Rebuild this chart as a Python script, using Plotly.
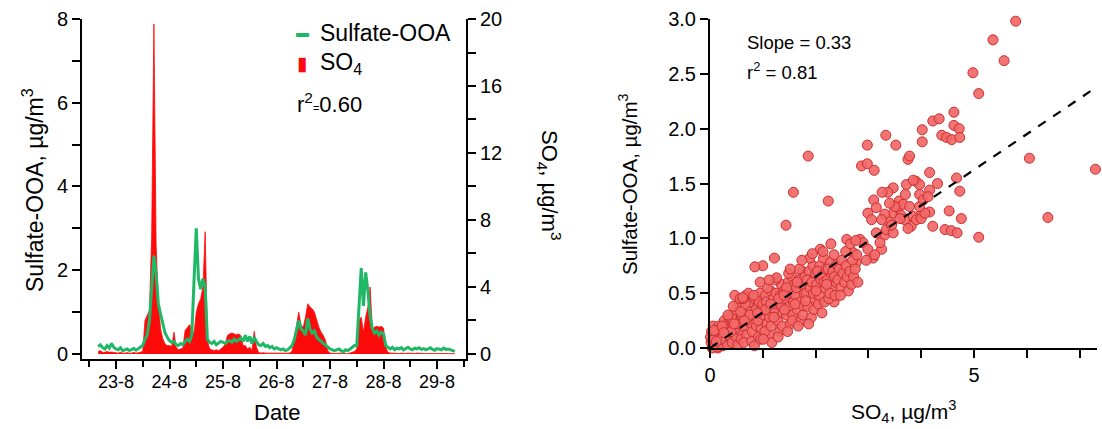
import pandas as pd
import plotly.graph_objects as go

# ---------------- time series (hourly, from 22-8 16:00) ----------------
start_time = "2012-08-22 16:00"
ooa_ts = [0.18, 0.22, 0.15, 0.12, 0.20, 0.14, 0.25, 0.16,
          0.12, 0.10, 0.15, 0.08, 0.10, 0.12, 0.08, 0.10, 0.13, 0.09, 0.12, 0.15, 0.20,
          0.35, 0.45, 0.80, 1.50, 2.35, 1.90, 1.20, 0.95, 0.70, 0.50, 0.40,
          0.32, 0.28, 0.30, 0.22, 0.20, 0.25, 0.22, 0.30, 0.35, 0.30, 0.45,
          1.75, 3.00, 1.80, 1.55, 1.80, 1.60, 0.35,
          0.28, 0.25, 0.30, 0.22, 0.25, 0.30,
          0.28, 0.25, 0.30, 0.32, 0.28, 0.35, 0.30, 0.33, 0.38, 0.30,
          0.45, 0.30, 0.42, 0.25, 0.40, 0.30,
          0.22, 0.20, 0.25, 0.18, 0.20, 0.15, 0.18, 0.12, 0.15, 0.12, 0.10, 0.12, 0.08, 0.10, 0.15, 0.20,
          0.35, 0.55, 0.80, 0.60, 0.55, 0.45, 0.85, 0.60, 0.50, 0.55, 0.40, 0.35, 0.30, 0.25, 0.20, 0.15,
          0.12, 0.10, 0.08, 0.10, 0.12, 0.08, 0.05, 0.10, 0.08, 0.12, 0.15, 0.20,
          0.20, 1.20, 2.05, 1.15, 1.95, 1.50, 0.90, 0.60, 0.50, 0.55, 0.45, 0.52, 0.48, 0.20,
          0.15, 0.12, 0.16, 0.10, 0.14, 0.12, 0.15, 0.10, 0.13, 0.16, 0.12, 0.10, 0.14, 0.12, 0.15, 0.11,
          0.13, 0.10, 0.12, 0.15, 0.11, 0.09, 0.13, 0.12, 0.10, 0.14, 0.11, 0.12, 0.10, 0.08, 0.06]
so4_ts = [0.15, 0.20, 0.10, 0.10, 0.15, 0.10, 0.12, 0.10,
          0.08, 0.05, 0.10, 0.05, 0.05, 0.08, 0.05, 0.05, 0.10, 0.05, 0.08, 0.10, 0.15,
          2.0, 2.3, 2.6, 7.0, 19.7, 6.5, 3.0, 1.5, 0.9, 0.6, 0.5,
          0.5, 0.45, 1.3, 0.4, 0.25, 0.3, 0.35, 1.4, 1.6, 1.75, 1.5,
          1.2, 2.5, 3.0, 3.3, 4.0, 7.3, 0.8,
          0.3, 0.25, 0.2, 0.25, 0.2, 0.3,
          0.4, 0.6, 1.1, 1.2, 1.25, 1.2, 1.15, 1.2, 1.1, 0.5,
          0.5, 0.3, 0.4, 0.2, 1.35, 0.4,
          0.1, 0.05, 0.08, 0.05, 0.05, 0.03, 0.05, 0.03, 0.05, 0.03, 0.02, 0.03, 0.02, 0.03, 0.05, 0.2,
          1.0, 1.8, 2.5, 1.7, 1.6, 2.2, 3.0, 2.8, 2.7, 2.5, 2.0, 1.6, 1.3, 1.1, 0.8, 0.2,
          0.05, 0.03, 0.02, 0.03, 0.05, 0.03, 0.02, 0.03, 0.02, 0.05, 0.1, 0.15,
          0.3, 2.0, 2.2, 1.3, 2.2, 2.8, 4.0, 1.5, 1.6, 1.65, 1.6, 1.65, 1.55, 0.4,
          0.1, 0.05, 0.05, 0.03, 0.05, 0.03, 0.05, 0.03, 0.03, 0.05, 0.03, 0.02, 0.03, 0.05, 0.03, 0.02,
          0.03, 0.02, 0.03, 0.05, 0.03, 0.02, 0.03, 0.02, 0.03, 0.02, 0.03, 0.02, 0.02, 0.02, 0.02]
times = pd.date_range(start_time, periods=len(ooa_ts), freq="h")

date_ticks = ["2012-08-23", "2012-08-24", "2012-08-25", "2012-08-26",
              "2012-08-27", "2012-08-28", "2012-08-29"]
date_labels = ["23-8", "24-8", "25-8", "26-8", "27-8", "28-8", "29-8"]

# ---------------- scatter (SO4 vs Sulfate-OOA) ----------------
scatter_so4 = [
    5.79, 5.36, 5.57, 4.98, 5.09, 4.62, 4.22, 4.34, 4.39, 4.48, 4.58, 4.62, 4.72, 4.73, 4.02, 4.02,
    3.33, 3.52, 2.98, 1.86, 3.75, 3.78, 6.05, 7.30, 2.87, 2.98, 3.11, 4.16, 4.67, 4.31, 3.90, 3.97,
    3.72, 3.85, 3.47, 4.73, 4.16, 1.58, 3.37, 3.26, 3.97, 2.24, 3.10, 3.58, 1.44, 4.22, 4.45, 4.57,
    4.68, 5.09, 6.40, 4.76, 4.53, 4.16, 3.96, 3.81,
    2.84, 2.90, 2.99, 3.09, 3.25, 3.31, 3.34, 3.40, 3.47, 3.56, 3.62, 3.69, 3.75, 3.85, 3.91, 4.00,
    4.07, 3.66, 3.78, 3.50, 3.40, 3.31, 3.25, 3.15, 2.99, 3.06, 3.15, 2.71, 2.59, 2.77, 2.96, 3.12,
    3.22, 3.47, 3.97, 4.04, 4.13, 3.44, 3.60, 3.70, 2.35, 1.00, 0.85, 1.22, 2.05,
    0.02, 0.05, 0.08, 0.10, 0.12, 0.15, 0.03, 0.18, 0.06, 0.14, 0.20, 0.11, 0.17, 0.07, 0.19, 0.04,
    0.13, 0.09, 0.16, 0.01, 0.05, 0.10, 0.08, 0.14,
    0.22, 0.25, 0.28, 0.30, 0.32, 0.35, 0.38, 0.24, 0.27, 0.33, 0.36, 0.40, 0.29, 0.23, 0.37,
    0.42, 0.45, 0.48, 0.50, 0.52, 0.55, 0.58, 0.44, 0.47, 0.60, 0.53, 0.57, 0.41, 0.49, 0.59,
    0.62, 0.65, 0.68, 0.70, 0.72, 0.75, 0.78, 0.64, 0.67, 0.73, 0.77, 0.80, 0.69, 0.63, 0.79,
    0.82, 0.85, 0.88, 0.90, 0.92, 0.95, 0.98, 0.84, 0.87, 0.93, 0.97, 1.00, 0.83, 0.91, 0.96,
    1.02, 1.05, 1.08, 1.10, 1.12, 1.15, 1.18, 1.04, 1.07, 1.13, 1.17, 1.20, 1.09, 1.16, 1.01,
    1.22, 1.25, 1.28, 1.30, 1.32, 1.35, 1.38, 1.24, 1.27, 1.33, 1.37, 1.40, 1.29, 1.36, 1.21,
    1.42, 1.45, 1.48, 1.50, 1.52, 1.55, 1.58, 1.44, 1.47, 1.53, 1.57, 1.60, 1.49, 1.56, 1.41,
    1.62, 1.65, 1.68, 1.70, 1.72, 1.75, 1.78, 1.64, 1.67, 1.73, 1.77, 1.80, 1.69, 1.76, 1.61,
    1.82, 1.85, 1.88, 1.90, 1.92, 1.95, 1.98, 1.84, 1.87, 1.93, 1.97, 2.00, 1.89, 1.96, 1.81,
    2.02, 2.05, 2.08, 2.10, 2.12, 2.15, 2.18, 2.04, 2.07, 2.13, 2.17, 2.20, 2.09, 2.16, 2.01,
    2.22, 2.25, 2.28, 2.30, 2.32, 2.35, 2.38, 2.24, 2.27, 2.33, 2.37, 2.40, 2.29, 2.36, 2.21,
    2.42, 2.45, 2.48, 2.50, 2.52, 2.55, 2.58, 2.60, 2.62, 2.65, 2.68, 2.70, 2.72, 2.75, 2.78, 2.80,
    2.47, 2.57, 2.66, 2.76,
    0.30, 0.55, 0.75, 1.05, 1.30, 1.45, 1.65, 0.20, 0.40, 0.65, 0.90, 1.15, 1.40, 0.12, 0.26, 0.46,
    0.34, 0.62, 0.95, 1.26, 1.52, 1.74, 1.94, 2.14, 0.58, 1.12]
scatter_ooa = [
    2.98, 2.81, 2.62, 2.51, 2.32, 2.15, 2.07, 2.09, 1.94, 1.92, 1.90, 2.03, 2.00, 1.92, 1.99, 1.88,
    1.94, 1.85, 1.85, 1.75, 1.72, 1.75, 1.73, 1.63, 1.66, 1.68, 1.62, 1.60, 1.55, 1.50, 1.52, 1.49,
    1.49, 1.53, 1.46, 1.43, 1.44, 1.42, 1.42, 1.42, 1.40, 1.34, 1.35, 1.34, 1.12, 1.11, 1.08, 1.07,
    1.05, 1.01, 1.19, 1.18, 1.25, 1.24, 1.20, 1.11,
    0.99, 0.96, 0.90, 0.82, 0.90, 1.03, 1.08, 1.15, 1.23, 1.28, 1.21, 1.17, 1.09, 1.20, 1.17, 1.18,
    1.23, 1.31, 1.29, 1.29, 1.32, 1.22, 1.17, 1.28, 1.23, 1.17, 1.05, 0.87, 0.99, 0.78, 0.80, 0.85,
    0.96, 1.05, 1.29, 1.35, 1.38, 1.12, 1.18, 1.40, 0.42, 0.75, 0.74, 0.82, 0.42,
    0.05, 0.12, 0.02, 0.18, 0.08, 0.00, 0.15, 0.12, 0.20, 0.15, 0.05, 0.03, 0.20, 0.09, 0.17, 0.00,
    0.11, 0.14, 0.06, 0.10, 0.07, 0.04, 0.16, 0.01,
    0.10, 0.18, 0.04, 0.22, 0.13, 0.08, 0.20, 0.02, 0.25, 0.03, 0.28, 0.15, 0.12, 0.20, 0.10,
    0.05, 0.20, 0.32, 0.10, 0.25, 0.40, 0.15, 0.38, 0.48, 0.30, 0.03, 0.45, 0.27, 0.18, 0.08,
    0.20, 0.35, 0.48, 0.12, 0.28, 0.42, 0.22, 0.05, 0.40, 0.50, 0.33, 0.15, 0.25, 0.45, 0.06,
    0.30, 0.45, 0.20, 0.38, 0.10, 0.50, 0.28, 0.02, 0.35, 0.42, 0.18, 0.40, 0.48, 0.25, 0.08,
    0.30, 0.48, 0.22, 0.38, 0.12, 0.52, 0.30, 0.15, 0.42, 0.28, 0.05, 0.45, 0.55, 0.20, 0.08,
    0.35, 0.50, 0.25, 0.42, 0.15, 0.58, 0.32, 0.62, 0.40, 0.48, 0.20, 0.52, 0.10, 0.38, 0.28,
    0.45, 0.30, 0.60, 0.38, 0.22, 0.65, 0.42, 0.52, 0.15, 0.50, 0.30, 0.58, 0.68, 0.25, 0.35,
    0.48, 0.35, 0.62, 0.42, 0.25, 0.70, 0.50, 0.55, 0.20, 0.58, 0.38, 0.65, 0.72, 0.30, 0.40,
    0.50, 0.38, 0.70, 0.55, 0.28, 0.75, 0.45, 0.62, 0.22, 0.60, 0.35, 0.68, 0.82, 0.50, 0.43,
    0.58, 0.40, 0.75, 0.62, 0.32, 0.82, 0.55, 0.70, 0.48, 0.66, 0.42, 0.72, 0.90, 0.60, 0.52,
    0.62, 0.45, 0.78, 0.68, 0.55, 0.85, 0.60, 0.72, 0.50, 0.70, 0.48, 0.76, 0.95, 0.65, 0.58,
    0.62, 0.72, 0.55, 0.80, 0.68, 0.60, 0.75, 0.65, 0.52, 0.70, 0.58, 0.80, 0.65, 0.72, 0.85, 0.60,
    0.48, 0.88, 0.95, 0.98,
    0.12, 0.22, 0.30, 0.35, 0.45, 0.55, 0.60, 0.08, 0.15, 0.25, 0.32, 0.40, 0.48, 0.06, 0.14, 0.22,
    0.30, 0.46, 0.60, 0.64, 0.72, 0.80, 0.86, 0.88, 0.33, 0.62]
fit_slope = 0.325
fit_x = [0.0, 7.33]

GREEN = "#1fb866"
RED = "#ff0a0a"
FONT = "Arial, Liberation Sans, sans-serif"
W, H = 1102, 429


def px(x):
    return x / W


def py(y):
    return 1 - y / H


fig = go.Figure()

fig.add_trace(go.Scatter(x=times, y=so4_ts, mode="lines", name="SO4",
                         fill="tozeroy", fillcolor=RED, showlegend=False,
                         line=dict(color=RED, width=0.8), xaxis="x", yaxis="y"))
fig.add_trace(go.Scatter(x=times, y=ooa_ts, mode="lines", name="Sulfate-OOA",
                         showlegend=False,
                         line=dict(color=GREEN, width=3), xaxis="x", yaxis="y2"))

fig.add_trace(go.Scatter(x=scatter_so4, y=scatter_ooa, mode="markers", showlegend=False,
                         marker=dict(size=10, color="rgba(242,104,104,0.92)",
                                     line=dict(color="rgb(205,45,45)", width=1)),
                         cliponaxis=False, xaxis="x3", yaxis="y3"))
fig.add_trace(go.Scatter(x=fit_x, y=[fit_slope * v for v in fit_x], mode="lines",
                         showlegend=False, line=dict(color="black", width=2.2, dash="dash"),
                         xaxis="x3", yaxis="y3"))

axis_common = dict(showgrid=False, zeroline=False, showline=True, linecolor="black",
                   linewidth=2, ticks="outside", tickcolor="black", tickwidth=2,
                   fixedrange=True)

fig.update_layout(
    width=W, height=H, margin=dict(l=0, r=0, t=0, b=0, autoexpand=False),
    paper_bgcolor="white", plot_bgcolor="white",
    font=dict(family=FONT, color="black"),
    showlegend=False,
    xaxis=dict(domain=[px(82), px(466)], anchor="y",
               range=["2012-08-22 08:45", "2012-08-29 13:00"],
               tickvals=date_ticks, ticktext=date_labels, ticklen=8,
               tickfont=dict(size=18), ticklabelstandoff=-3,
               minor=dict(dtick=43200000, tick0="2012-08-22", ticks="outside", ticklen=6,
                          tickwidth=2, tickcolor="black"),
               **axis_common),
    yaxis=dict(domain=[py(359), py(19)], anchor="x", side="right", range=[-0.3, 20],
               tickvals=[0, 4, 8, 12, 16, 20], ticklen=8, tickfont=dict(size=20),
               minor=dict(tickvals=[2, 6, 10, 14, 18], ticks="outside", ticklen=8,
                          tickwidth=2, tickcolor="black"),
               **axis_common),
    yaxis2=dict(overlaying="y", anchor="x", side="left", range=[-0.12, 8],
                tickvals=[0, 2, 4, 6, 8], ticklen=8, tickfont=dict(size=20),
                minor=dict(tickvals=[1, 3, 5, 7], ticks="outside", ticklen=8,
                           tickwidth=2, tickcolor="black"),
                **axis_common),
    xaxis3=dict(domain=[px(710), px(1097)], anchor="y3", range=[0, 7.33],
                tickvals=[0, 5], ticklen=8, tickfont=dict(size=20), ticklabelstandoff=0,
                minor=dict(tickvals=[1, 2, 3, 4, 6, 7], ticks="outside", ticklen=8,
                           tickwidth=2, tickcolor="black"),
                **axis_common),
    yaxis3=dict(domain=[py(348), py(19)], anchor="x3", range=[0, 3.0],
                tickvals=[0, 0.5, 1.0, 1.5, 2.0, 2.5, 3.0], tickformat=".1f", ticklen=8,
                tickfont=dict(size=20), **axis_common),
)

ann = [
    # custom legend
    dict(x=px(302), y=py(33), text="▬", font=dict(size=13, color=GREEN)),
    dict(x=px(318), y=py(33), xanchor="left", text="Sulfate-OOA", font=dict(size=23)),
    dict(x=px(302), y=py(63), text="▮", font=dict(size=19, color=RED)),
    dict(x=px(318), y=py(63), xanchor="left", text="SO<sub>4</sub>", font=dict(size=23)),
    dict(x=px(295), y=py(103), xanchor="left",
         text="r<sup>2</sup><span style='font-size:11px'>=</span>0.60", font=dict(size=22)),
    # axis titles
    dict(x=px(33), y=py(190), text="Sulfate-OOA, µg/m<sup>3</sup>", textangle=-90,
         font=dict(size=23)),
    dict(x=px(549), y=py(185), text="SO<sub>4</sub>, µg/m<sup>3</sup>", textangle=90,
         font=dict(size=22)),
    dict(x=px(277), y=py(412), text="Date", font=dict(size=22)),
    dict(x=px(628), y=py(184), text="Sulfate-OOA, µg/m<sup>3</sup>", textangle=-90,
         font=dict(size=20.5)),
    dict(x=px(903), y=py(411), text="SO<sub>4</sub>, µg/m<sup>3</sup>", font=dict(size=21)),
    dict(x=px(745), y=py(42), xanchor="left", text="Slope = 0.33", font=dict(size=18.5)),
    dict(x=px(745), y=py(71), xanchor="left", text="r<sup>2</sup> = 0.81", font=dict(size=18.5)),
]
for a in ann:
    a.setdefault("xanchor", "center")
    a.setdefault("yanchor", "middle")
    fig.add_annotation(xref="paper", yref="paper", showarrow=False, **a)

fig.write_html("out.html",
               post_script="document.body.style.margin='0';document.body.style.overflow='hidden';")
